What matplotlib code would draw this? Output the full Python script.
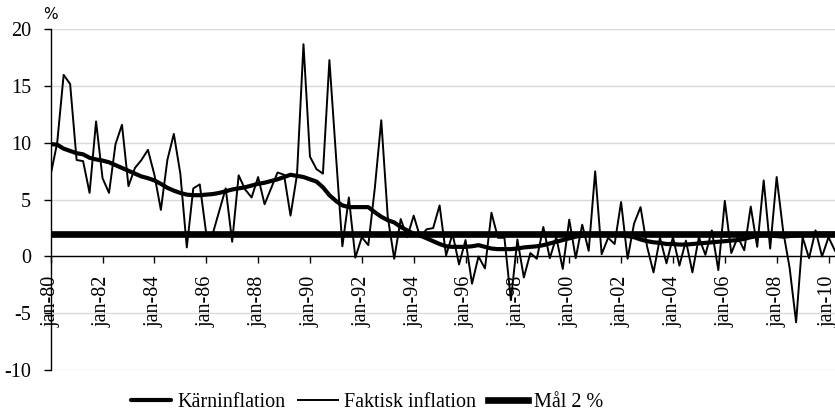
import matplotlib
matplotlib.use('Agg')
import matplotlib.pyplot as plt

# quarterly data, jan-80 .. apr-10
faktisk = [7.2, 10.0, 16.0, 15.2, 8.5, 8.4, 5.6, 11.9, 6.9, 5.6,
           9.9, 11.6, 6.2, 7.8, 8.5, 9.4, 7.2, 4.1, 8.5, 10.8,
           7.3, 0.8, 6.0, 6.35, 2.0, 2.0, 4.0, 6.0, 1.3, 7.15,
           5.9, 5.2, 7.0, 4.6, 6.0, 7.4, 7.2, 3.6, 7.2, 18.7,
           8.8, 7.7, 7.3, 17.3, 9.0, 0.9, 5.2, -0.1, 1.7, 1.0,
           6.0, 12.0, 3.5, -0.2, 3.3, 1.7, 3.6, 1.7, 2.4, 2.5,
           4.5, 0.1, 2.0, -0.7, 1.45, -2.4, 0.0, -1.05, 3.85, 1.65,
           1.65, -3.85, 1.5, -1.85, 0.3, -0.2, 2.6, -0.15, 1.7, -1.1,
           3.25, -0.15, 2.8, 0.5, 7.5, 0.2, 1.65, 1.1, 4.8, -0.2,
           2.9, 4.35, 0.9, -1.4, 1.65, -0.6, 1.7, -0.8, 1.4, -1.4,
           1.7, 0.15, 2.3, -1.2, 4.9, 0.3, 1.7, 0.55, 4.4, 0.85,
           6.7, 0.7, 7.0, 2.25, -1.0, -5.8, 1.7, -0.15, 2.3, 0.0,
           1.7, 0.5]

karn = [9.9, 9.85, 9.5, 9.3, 9.1, 9.0, 8.7, 8.55, 8.45, 8.3,
        8.05, 7.8, 7.55, 7.3, 7.05, 6.9, 6.7, 6.4, 6.05, 5.8,
        5.6, 5.45, 5.4, 5.4, 5.45, 5.5, 5.6, 5.75, 5.9, 6.0,
        6.1, 6.25, 6.4, 6.5, 6.65, 6.8, 7.0, 7.2, 7.1, 7.0,
        6.8, 6.6, 6.1, 5.4, 4.9, 4.5, 4.35, 4.35, 4.35, 4.35,
        3.9, 3.5, 3.2, 3.0, 2.6, 2.3, 2.0, 1.85, 1.6, 1.35,
        1.1, 0.9, 0.85, 0.85, 0.85, 0.9, 1.0, 0.85, 0.7, 0.65,
        0.65, 0.65, 0.7, 0.8, 0.85, 0.9, 1.0, 1.15, 1.3, 1.45,
        1.6, 1.75, 1.85, 1.95, 2.0, 2.0, 2.0, 1.95, 1.9, 1.8,
        1.7, 1.5, 1.35, 1.25, 1.2, 1.1, 1.1, 1.05, 1.05, 1.1,
        1.15, 1.2, 1.25, 1.3, 1.35, 1.4, 1.45, 1.55, 1.7, 1.8,
        1.9, 1.85, 1.8, 1.75, 1.8, 1.85, 1.9, 1.95, 2.0, 2.0,
        2.0, 2.0]

mal = [2.0] * len(faktisk)

tick_labels = ['jan-80', 'jan-82', 'jan-84', 'jan-86', 'jan-88', 'jan-90',
               'jan-92', 'jan-94', 'jan-96', 'jan-98', 'jan-00', 'jan-02',
               'jan-04', 'jan-06', 'jan-08', 'jan-10']

plt.rcParams['font.family'] = ['Liberation Serif', 'DejaVu Serif']

fig = plt.figure(figsize=(8.35, 4.15), dpi=100)
ax = fig.add_axes([0.0607, 0.1084, 0.9393, 0.8206])

x = list(range(len(faktisk)))
ax.plot(x, karn, color='black', lw=3.0, label='Kärninflation', solid_capstyle='round')
ax.plot(x, faktisk, color='black', lw=1.4, label='Faktisk inflation')
ax.plot(x, mal, color='black', lw=4.8, label='Mål 2 %')

# spine at zero first, it resets the ticks
ax.spines['bottom'].set_position(('data', 0))
ax.spines['top'].set_visible(False)
ax.spines['right'].set_visible(False)
ax.spines['left'].set_linewidth(1)
ax.spines['bottom'].set_linewidth(1)

ax.set_xlim(0, len(faktisk) - 1)
ax.set_ylim(-10, 20)
ax.set_yticks([-10, -5, 0, 5, 10, 15, 20])
ax.set_yticklabels(['-10', '-5', '0', '5', '10', '15', '20'], fontsize=14.5)
ax.yaxis.grid(True, color='#d9d9d9', lw=1)
ax.set_axisbelow(True)
ax.tick_params(axis='y', length=5, width=1, pad=9, direction='out')

ax.set_xticks(range(0, len(faktisk), 8))
ax.set_xticklabels(tick_labels, fontsize=14.5)
ax.tick_params(axis='x', length=5, width=1, pad=9, direction='out', labelrotation=90)

fig.text(0.0515, 0.966, '%', fontsize=11, family='DejaVu Sans', va='center', ha='left')

fig.legend(loc='center', bbox_to_anchor=(0.44, 0.031), ncol=3, frameon=False,
           fontsize=14.5, handlelength=2.0, handletextpad=0.3, columnspacing=0.6)

fig.savefig('out.png', dpi=100)
